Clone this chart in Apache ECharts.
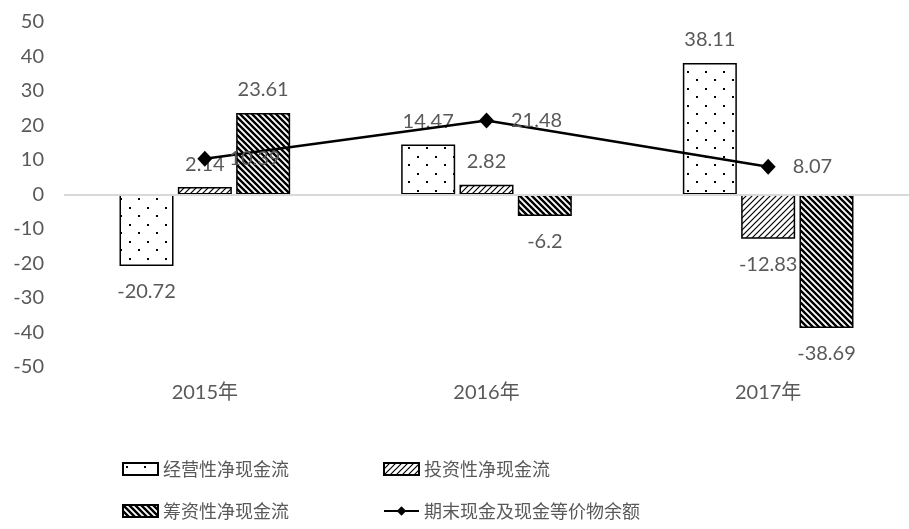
<!DOCTYPE html>
<html>
<head>
<meta charset="utf-8">
<style>
  html, body { margin: 0; padding: 0; background: #fff; }
  #main { width: 909px; height: 529px; }
</style>
</head>
<body>
<div id="main"></div>
<script src="https://cdn.jsdelivr.net/npm/echarts@6/dist/echarts.min.js"></script>
<script>
// 数据
var years = ['2015年', '2016年', '2017年'];
var operating = [-20.72, 14.47, 38.11];   // 经营性净现金流
var investing = [2.14, 2.82, -12.83];     // 投资性净现金流
var financing = [23.61, -6.2, -38.69];    // 筹资性净现金流
var endCash = [10.39, 21.48, 8.07];       // 期末现金及现金等价物余额
var yTicks = { min: -50, max: 50, step: 10 };

var textColor = '#595959';
var numFont = 'Lato, "Noto Sans CJK SC", sans-serif';

// 填充图案
function makeTile(w, h, draw) {
    var c = document.createElement('canvas');
    c.width = w; c.height = h;
    var ctx = c.getContext('2d');
    ctx.fillStyle = '#fff';
    ctx.fillRect(0, 0, w, h);
    draw(ctx);
    return { image: c, repeat: 'repeat' };
}
var dotFill = makeTile(18, 17, function (ctx) {
    ctx.fillStyle = '#000';
    ctx.fillRect(3, 3, 2, 2);
    ctx.fillRect(12, 11, 2, 2);
});
var lightHatch = makeTile(6, 6, function (ctx) {
    ctx.strokeStyle = '#000';
    ctx.lineWidth = 1.2;
    ctx.beginPath();
    ctx.moveTo(-1, 7); ctx.lineTo(7, -1);
    ctx.moveTo(-4, 4); ctx.lineTo(4, -4);
    ctx.moveTo(2, 10); ctx.lineTo(10, 2);
    ctx.stroke();
});
var denseHatch = makeTile(6, 6, function (ctx) {
    ctx.strokeStyle = '#000';
    ctx.lineWidth = 2.4;
    ctx.beginPath();
    ctx.moveTo(-1, -1); ctx.lineTo(7, 7);
    ctx.moveTo(-4, 2); ctx.lineTo(2, 8);
    ctx.moveTo(2, -4); ctx.lineTo(8, 2);
    ctx.stroke();
});

// 正值标签在上，负值标签在下
function barData(arr) {
    return arr.map(function (v) {
        return {
            value: v,
            label: v < 0 ? { position: 'bottom', distance: 16 } : { position: 'top', distance: 13 }
        };
    });
}

function barSeries(name, arr, fill) {
    return {
        name: name,
        type: 'bar',
        barWidth: 54,
        barGap: '8%',
        data: barData(arr),
        itemStyle: { color: fill, borderColor: '#000', borderWidth: 1.5 },
        label: { show: true, color: textColor, fontSize: 20, fontFamily: numFont },
        emphasis: { disabled: true }
    };
}

var myChart = echarts.init(document.getElementById('main'));

var legendText = { color: textColor, fontSize: 18, fontFamily: '"Noto Sans CJK SC", sans-serif' };

var option = {
    animation: false,
    grid: { left: 64, width: 856, top: 22, height: 345 },
    legend: [{
        left: 117, top: 455,
        itemWidth: 35, itemHeight: 12, itemGap: 94,
        textStyle: legendText,
        data: [{ name: '经营性净现金流', icon: 'rect' }, { name: '投资性净现金流', icon: 'rect' }]
    }, {
        left: 117, top: 497,
        itemWidth: 35, itemHeight: 12, itemGap: 94,
        textStyle: legendText,
        data: [{ name: '筹资性净现金流', icon: 'rect' }, '期末现金及现金等价物余额']
    }],
    xAxis: {
        type: 'category',
        data: years,
        axisLine: { show: false, onZero: false },
        axisTick: { show: false },
        axisLabel: { color: textColor, fontSize: 20, fontFamily: numFont, margin: 16 }
    },
    yAxis: {
        type: 'value',
        min: yTicks.min,
        max: yTicks.max,
        interval: yTicks.step,
        splitLine: { show: false },
        axisLine: { show: false },
        axisTick: { show: false },
        axisLabel: { color: textColor, fontSize: 20, fontFamily: numFont, margin: 20 }
    },
    series: [
        barSeries('经营性净现金流', operating, dotFill),
        barSeries('投资性净现金流', investing, lightHatch),
        Object.assign(barSeries('筹资性净现金流', financing, denseHatch), {
            markLine: {
                silent: true,
                symbol: 'none',
                label: { show: false },
                lineStyle: { color: '#d9d9d9', width: 2, type: 'solid' },
                data: [{ yAxis: 0 }]
            }
        }),
        {
            name: '期末现金及现金等价物余额',
            type: 'line',
            data: endCash,
            z: 5,
            color: '#000',
            symbol: 'diamond',
            symbolSize: [15, 16],
            lineStyle: { color: '#000', width: 2.5 },
            itemStyle: { color: '#000' },
            label: {
                show: true, position: 'right', distance: 17,
                color: textColor, fontSize: 20, fontFamily: numFont
            },
            emphasis: { disabled: true }
        }
    ]
};

myChart.setOption(option);
</script>
</body>
</html>
